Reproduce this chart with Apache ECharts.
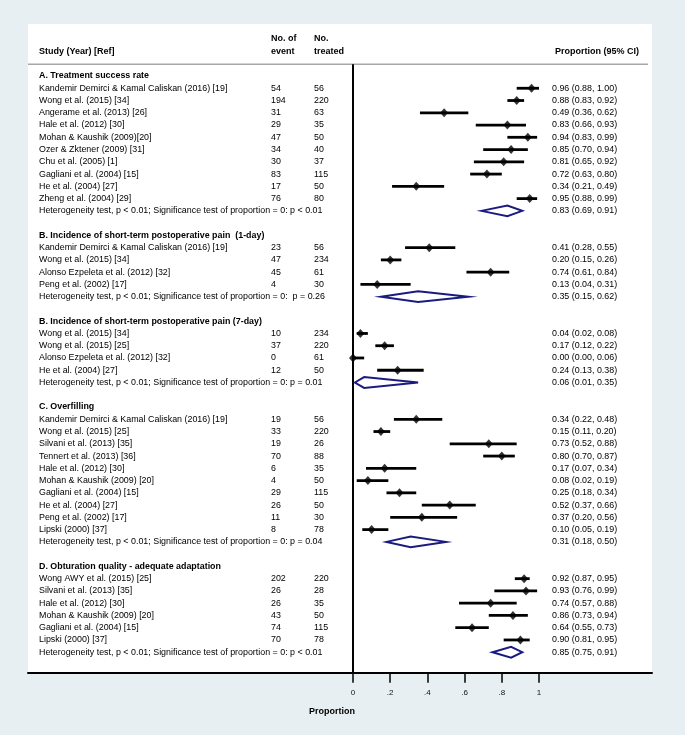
<!DOCTYPE html>
<html><head><meta charset="utf-8">
<script src="https://cdn.jsdelivr.net/npm/echarts/dist/echarts.min.js"></script>
<style>html,body{margin:0;padding:0;background:#e8eff2}#c{width:685px;height:735px}</style>
</head><body><div id="c"></div>
<script>
// ---------- DATA ----------
const sectionTitles = [
  'A. Treatment success rate',
  'B. Incidence of short-term postoperative pain  (1-day)',
  'B. Incidence of short-term postoperative pain (7-day)',
  'C. Overfilling',
  'D. Obturation quality - adequate adaptation'
];
const studiesA = ['Kandemir Demirci & Kamal Caliskan (2016) [19]','Wong et al. (2015) [34]','Angerame et al. (2013) [26]','Hale et al. (2012) [30]','Mohan & Kaushik (2009)[20]','Ozer & Zktener (2009) [31]','Chu et al. (2005) [1]','Gagliani et al. (2004) [15]','He et al. (2004) [27]','Zheng et al. (2004) [29]'];
const eventsA  = [54,194,31,29,47,34,30,83,17,76];
const treatedA = [56,220,63,35,50,40,37,115,50,80];
const propA = [0.96,0.88,0.49,0.83,0.94,0.85,0.81,0.72,0.34,0.95];
const lowA  = [0.88,0.83,0.36,0.66,0.83,0.70,0.65,0.63,0.21,0.88];
const highA = [1.00,0.92,0.62,0.93,0.99,0.94,0.92,0.80,0.49,0.99];

const studiesB1 = ['Kandemir Demirci & Kamal Caliskan (2016) [19]','Wong et al. (2015) [34]','Alonso Ezpeleta et al. (2012) [32]','Peng et al. (2002) [17]'];
const eventsB1  = [23,47,45,4];
const treatedB1 = [56,234,61,30];
const propB1 = [0.41,0.20,0.74,0.13];
const lowB1  = [0.28,0.15,0.61,0.04];
const highB1 = [0.55,0.26,0.84,0.31];

const studiesB7 = ['Wong et al. (2015) [34]','Wong et al. (2015) [25]','Alonso Ezpeleta et al. (2012) [32]','He et al. (2004) [27]'];
const eventsB7  = [10,37,0,12];
const treatedB7 = [234,220,61,50];
const propB7 = [0.04,0.17,0.00,0.24];
const lowB7  = [0.02,0.12,0.00,0.13];
const highB7 = [0.08,0.22,0.06,0.38];

const studiesC = ['Kandemir Demirci & Kamal Caliskan (2016) [19]','Wong et al. (2015) [25]','Silvani et al. (2013) [35]','Tennert et al. (2013) [36]','Hale et al. (2012) [30]','Mohan & Kaushik (2009) [20]','Gagliani et al. (2004) [15]','He et al. (2004) [27]','Peng et al. (2002) [17]','Lipski (2000) [37]'];
const eventsC  = [19,33,19,70,6,4,29,26,11,8];
const treatedC = [56,220,26,88,35,50,115,50,30,78];
const propC = [0.34,0.15,0.73,0.80,0.17,0.08,0.25,0.52,0.37,0.10];
const lowC  = [0.22,0.11,0.52,0.70,0.07,0.02,0.18,0.37,0.20,0.05];
const highC = [0.48,0.20,0.88,0.87,0.34,0.19,0.34,0.66,0.56,0.19];

const studiesD = ['Wong AWY et al. (2015) [25]','Silvani et al. (2013) [35]','Hale et al. (2012) [30]','Mohan & Kaushik (2009) [20]','Gagliani et al. (2004) [15]','Lipski (2000) [37]'];
const eventsD  = [202,26,26,43,74,70];
const treatedD = [220,28,35,50,115,78];
const propD = [0.92,0.93,0.74,0.86,0.64,0.90];
const lowD  = [0.87,0.76,0.57,0.73,0.55,0.81];
const highD = [0.95,0.99,0.88,0.94,0.73,0.95];

const hetP = ['p < 0.01',' p = 0.26','p = 0.01','p = 0.04','p < 0.01'];
const pooledEst  = [0.83,0.35,0.06,0.31,0.85];
const pooledLow  = [0.69,0.15,0.01,0.18,0.75];
const pooledHigh = [0.91,0.62,0.35,0.50,0.91];

const tickValues = [0,0.2,0.4,0.6,0.8,1];
const tickLabels = ['0','.2','.4','.6','.8','1'];

// ---------- LAYOUT ----------
const ROW_H = 12.26, ROW0_Y = 76;
const X0 = 353, PX_PER_UNIT = 186;
const PANEL_L = 28, PANEL_R = 652;
const Y_MIN = -4.24, Y_MAX = 48.67;
const toX = px => (px - X0) / PX_PER_UNIT;
const COL_STUDY = toX(39), COL_EVENT = toX(271), COL_TREAT = toX(314), COL_CI = toX(552);
const FONT = '"Liberation Sans", Arial, Helvetica, sans-serif';
const FS = 8.9;

const sections = [
  [studiesA, eventsA, treatedA, propA, lowA, highA],
  [studiesB1, eventsB1, treatedB1, propB1, lowB1, highB1],
  [studiesB7, eventsB7, treatedB7, propB7, lowB7, highB7],
  [studiesC, eventsC, treatedC, propC, lowC, highC],
  [studiesD, eventsD, treatedD, propD, lowD, highD]
];

const fmt = v => v.toFixed(2);
const textItems = [];   // [x, row, text, bold]
const studyRows = [];   // [est, row, lo, hi]
const pooledRows = [];  // [est, row, lo, hi]
let r = 0;
sections.forEach((s, si) => {
  const [names, ev, tr, p, lo, hi] = s;
  textItems.push([COL_STUDY, r, sectionTitles[si], 1]);
  r++;
  names.forEach((n, i) => {
    textItems.push([COL_STUDY, r, n, 0]);
    textItems.push([COL_EVENT, r, String(ev[i]), 0]);
    textItems.push([COL_TREAT, r, String(tr[i]), 0]);
    textItems.push([COL_CI, r, fmt(p[i]) + ' (' + fmt(lo[i]) + ', ' + fmt(hi[i]) + ')', 0]);
    studyRows.push([p[i], r, lo[i], hi[i]]);
    r++;
  });
  textItems.push([COL_STUDY, r, 'Heterogeneity test, p < 0.01; Significance test of proportion = 0: ' + hetP[si], 0]);
  textItems.push([COL_CI, r, fmt(pooledEst[si]) + ' (' + fmt(pooledLow[si]) + ', ' + fmt(pooledHigh[si]) + ')', 0]);
  pooledRows.push([pooledEst[si], r, pooledLow[si], pooledHigh[si]]);
  r += 2;
});

const chart = echarts.init(document.getElementById('c'), null, {renderer: 'canvas'});
const gridTop = ROW0_Y + Y_MIN * ROW_H;
const gridH = (Y_MAX - Y_MIN) * ROW_H;
const HB = 'bold 9px ' + FONT;

chart.setOption({
  backgroundColor: '#e8eff2',
  animation: false,
  grid: [
    {left: PANEL_L, width: PANEL_R - PANEL_L, top: gridTop, height: gridH, show: true, backgroundColor: '#ffffff', borderWidth: 0},
    {left: X0, width: PX_PER_UNIT, top: gridTop, height: gridH, show: false}
  ],
  xAxis: [
    {gridIndex: 0, type: 'value', position: 'bottom', min: toX(PANEL_L), max: toX(PANEL_R),
     axisLine: {show: true, onZero: false, lineStyle: {color: '#000', width: 2}},
     axisTick: {show: false}, axisLabel: {show: false}, splitLine: {show: false}},
    {gridIndex: 1, type: 'value', position: 'bottom', min: 0, max: 1, interval: 0.2,
     axisLine: {show: false, onZero: false}, splitLine: {show: false},
     axisTick: {show: true, length: 10, lineStyle: {color: '#000', width: 1.5}},
     axisLabel: {margin: 16, color: '#111', fontFamily: FONT, fontSize: 8,
       formatter: v => { const k = tickValues.findIndex(t => Math.abs(t - v) < 1e-6); return k >= 0 ? tickLabels[k] : ''; }}}
  ],
  yAxis: [
    {gridIndex: 0, type: 'value', min: Y_MIN, max: Y_MAX, inverse: true, show: false},
    {gridIndex: 1, type: 'value', min: Y_MIN, max: Y_MAX, inverse: true, show: false}
  ],
  graphic: [
    {type: 'text', left: 39, top: 47, style: {text: 'Study (Year) [Ref]', font: HB, fill: '#000'}},
    {type: 'text', left: 271, top: 34, style: {text: 'No. of', font: HB, fill: '#000'}},
    {type: 'text', left: 271, top: 47, style: {text: 'event', font: HB, fill: '#000'}},
    {type: 'text', left: 314, top: 34, style: {text: 'No.', font: HB, fill: '#000'}},
    {type: 'text', left: 314, top: 47, style: {text: 'treated', font: HB, fill: '#000'}},
    {type: 'text', left: 555, top: 47, style: {text: 'Proportion (95% CI)', font: HB, fill: '#000'}},
    {type: 'text', left: 309, top: 707, style: {text: 'Proportion', font: HB, fill: '#000'}}
  ],
  series: [
    { // header separator and zero line
      type: 'custom', xAxisIndex: 0, yAxisIndex: 0, silent: true,
      data: [[0]],
      renderItem: (params, api) => {
        const a = api.coord([toX(PANEL_L), -0.95]);
        const b = api.coord([toX(648), -0.95]);
        const c = api.coord([0, -0.95]);
        const d = api.coord([0, Y_MAX]);
        return {type: 'group', children: [
          {type: 'line', shape: {x1: a[0], y1: a[1], x2: b[0], y2: b[1]}, style: {stroke: '#a8a8a8', lineWidth: 1.5}},
          {type: 'line', shape: {x1: c[0], y1: c[1], x2: d[0], y2: d[1]}, style: {stroke: '#000', lineWidth: 2}}
        ]};
      }
    },
    { // text columns
      type: 'custom', xAxisIndex: 0, yAxisIndex: 0, silent: true,
      data: textItems.map((t, i) => [t[0], t[1], i]),
      renderItem: (params, api) => {
        const t = textItems[params.dataIndex];
        const p = api.coord([t[0], t[1]]);
        return {type: 'text', x: p[0], y: p[1], style: {text: t[2], font: (t[3] ? 'bold ' : '') + FS + 'px ' + FONT, fill: '#000', textAlign: 'left', textVerticalAlign: 'middle'}};
      }
    },
    { // CI lines
      type: 'custom', xAxisIndex: 0, yAxisIndex: 0, silent: true,
      data: studyRows,
      renderItem: (params, api) => {
        const a = api.coord([api.value(2), api.value(1)]);
        const b = api.coord([api.value(3), api.value(1)]);
        return {type: 'line', shape: {x1: a[0], y1: a[1], x2: b[0], y2: b[1]}, style: {stroke: '#000', lineWidth: 2.8}};
      }
    },
    { // point estimates
      type: 'scatter', xAxisIndex: 0, yAxisIndex: 0, silent: true,
      data: studyRows.map(d => [d[0], d[1]]),
      symbol: 'diamond', symbolSize: [8, 9], itemStyle: {color: '#000'}, z: 5
    },
    { // pooled diamonds
      type: 'custom', xAxisIndex: 0, yAxisIndex: 0, silent: true,
      data: pooledRows,
      renderItem: (params, api) => {
        const row = api.value(1), h = 5.4;
        const l = api.coord([api.value(2), row]);
        const m = api.coord([api.value(0), row]);
        const rr = api.coord([api.value(3), row]);
        return {type: 'polygon', shape: {points: [[l[0], l[1]], [m[0], m[1] - h], [rr[0], rr[1]], [m[0], m[1] + h]]},
                style: {fill: 'rgba(255,255,255,0)', stroke: '#1a1a80', lineWidth: 2}};
      }
    }
  ]
});
</script>
</body></html>
